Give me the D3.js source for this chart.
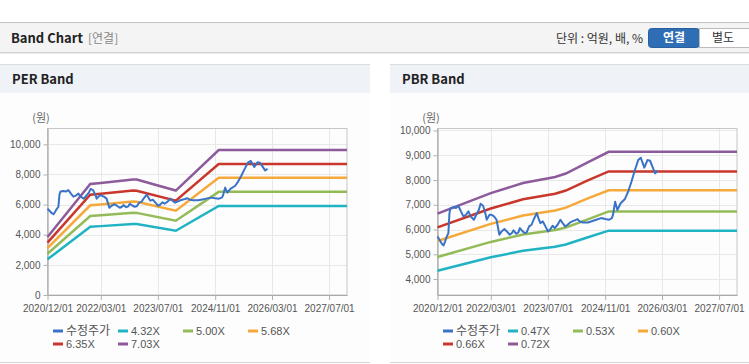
<!DOCTYPE html>
<html>
<head>
<meta charset="utf-8">
<script src="https://cdn.jsdelivr.net/npm/d3@7"></script>
<style>
  html, body { margin: 0; padding: 0; background: #fff; }
  svg { display: block; }
  text { font-family: "Noto Sans CJK KR", "Liberation Sans", sans-serif; }
</style>
</head>
<body>
<svg id="chart"></svg>
<script>
// x tick labels shared by both charts
const tickDates = ['2020/12/01', '2022/03/01', '2023/07/01', '2024/11/01', '2026/03/01', '2027/07/01'];
const xStart = '2020-12-01';
const xEnd = '2027-12-01';

// adjusted price (수정주가)
const priceDates = [
  '2020-12-01','2020-12-18','2021-01-07','2021-01-22','2021-02-04','2021-02-19','2021-03-04','2021-03-13',
  '2021-03-22','2021-04-16','2021-05-07','2021-05-28','2021-06-19','2021-07-10','2021-08-01','2021-08-22',
  '2021-09-10','2021-10-07','2021-10-28','2021-11-19','2021-12-04','2021-12-25','2022-01-13','2022-01-25',
  '2022-02-18','2022-03-07','2022-03-28','2022-04-19','2022-05-13','2022-06-01','2022-06-25','2022-07-16',
  '2022-08-10','2022-08-28','2022-09-10','2022-10-04','2022-10-22','2022-11-04','2022-11-28','2022-12-16',
  '2023-01-01','2023-01-22','2023-02-12','2023-03-01','2023-03-28','2023-04-16','2023-04-28','2023-05-19',
  '2023-06-10','2023-07-01','2023-07-19','2023-08-10','2023-08-28','2023-09-22','2023-10-16','2023-11-04',
  '2023-11-25','2023-12-16','2024-01-07','2024-01-25','2024-02-16','2024-03-10','2024-03-28','2024-04-25',
  '2024-06-07','2024-07-04','2024-08-16','2024-09-28','2024-11-01','2024-12-04','2024-12-28','2025-01-07',
  '2025-01-25','2025-02-13','2025-03-13','2025-04-19','2025-05-16','2025-06-13','2025-07-13','2025-08-10',
  '2025-09-01','2025-10-01','2025-10-28','2025-11-19','2025-12-04','2026-01-01','2026-01-22'
];
const priceValues = [
  5722, 5588, 5426, 5359, 5520, 5722, 5857, 6664,
  6866, 6906, 6866, 6960, 6731, 6529, 6597, 6731,
  6529, 6395, 6597, 6798, 7040, 6960, 6664, 6395,
  6597, 6597, 6529, 6395, 5789, 5924, 6018, 5924,
  5789, 5857, 5964, 5830, 5884, 6058, 5924, 5857,
  5884, 6126, 6193, 6395, 6664, 6395, 6260, 6327,
  6126, 5924, 5991, 6153, 6058, 6193, 6395, 6260,
  6126, 6193, 6287, 6327, 6368, 6422, 6327, 6287,
  6287, 6327, 6395, 6462, 6422, 6395, 6462, 6600,
  7125, 6790, 7060, 7234, 7528, 7931, 8403, 8806,
  8899, 8500, 8806, 8780, 8600, 8270, 8375
];

// PER band lines
const perDates = ['2020-12-01','2021-12-01','2022-03-01','2022-12-01','2023-01-01','2023-12-01','2024-12-01','2027-12-01'];
const per432 = [2367, 4527, 4571, 4713, 4709, 4260, 5914, 5914];
const per500 = [2740, 5240, 5290, 5455, 5450, 4930, 6845, 6845];
const per568 = [3113, 5953, 6009, 6197, 6191, 5600, 7776, 7776];
const per635 = [3480, 6655, 6718, 6928, 6922, 6261, 8693, 8693];
const per703 = [3852, 7367, 7438, 7670, 7663, 6932, 9624, 9624];
const perLabels = ['4.32X', '5.00X', '5.68X', '6.35X', '7.03X'];
const perTicks = [0, 2000, 4000, 6000, 8000, 10000];

// PBR band lines
const pbrDates = ['2020-12-01','2022-03-01','2022-12-01','2023-09-01','2023-12-01','2024-06-01','2024-12-01','2027-12-01'];
const pbr047 = [4336, 4878, 5142, 5302, 5393, 5678, 5955, 5955];
const pbr053 = [4889, 5500, 5798, 5978, 6082, 6402, 6730, 6730];
const pbr060 = [5535, 6227, 6564, 6768, 6885, 7248, 7585, 7585];
const pbr066 = [6089, 6849, 7220, 7445, 7574, 7973, 8345, 8345];
const pbr072 = [6642, 7472, 7877, 8122, 8262, 8698, 9140, 9140];
const pbrLabels = ['0.47X', '0.53X', '0.60X', '0.66X', '0.72X'];
const pbrTicks = [4000, 5000, 6000, 7000, 8000, 9000, 10000];

const priceName = '수정주가';
const colors = ['#3a73c6', '#20b3c3', '#93bb58', '#f5a93a', '#c9362b', '#8d5a9c'];

const W = 749, H = 364;
const parse = d3.timeParse('%Y-%m-%d');
const parseTick = d3.timeParse('%Y/%m/%d');

const svg = d3.select('#chart').attr('width', W).attr('height', H);

// ---- top header bar
svg.append('rect').attr('x', 0).attr('y', 22).attr('width', W).attr('height', 30).attr('fill', '#f4f4f4');
svg.append('line').attr('x1', 0).attr('x2', W).attr('y1', 22.5).attr('y2', 22.5).attr('stroke', '#c4c4c4');
svg.append('line').attr('x1', 0).attr('x2', W).attr('y1', 52.5).attr('y2', 52.5).attr('stroke', '#d0d0d0');
svg.append('line').attr('x1', 0).attr('x2', W).attr('y1', 53.5).attr('y2', 53.5).attr('stroke', '#ececec');

svg.append('text').attr('x', 11).attr('y', 42.5)
  .style('font-size', '13px').style('font-weight', 'bold').attr('fill', '#222')
  .text('Band Chart');
svg.append('text').attr('x', 88).attr('y', 42.5)
  .style('font-size', '12px').attr('fill', '#888')
  .text('[연결]');
svg.append('text').attr('x', 643).attr('y', 42.5).attr('text-anchor', 'end')
  .style('font-size', '12px').attr('fill', '#333')
  .text('단위 : 억원, 배, %');

svg.append('rect').attr('x', 648.5).attr('y', 28.5).attr('width', 51).attr('height', 19).attr('rx', 3)
  .attr('fill', '#2f6db4').attr('stroke', '#2a5f9e');
svg.append('rect').attr('x', 699.5).attr('y', 28.5).attr('width', 60).attr('height', 19)
  .attr('fill', '#fff').attr('stroke', '#bbb');
svg.append('text').attr('x', 674).attr('y', 42).attr('text-anchor', 'middle')
  .style('font-size', '12px').style('font-weight', 'bold').attr('fill', '#fff')
  .text('연결');
svg.append('text').attr('x', 723).attr('y', 42).attr('text-anchor', 'middle')
  .style('font-size', '12px').attr('fill', '#333')
  .text('별도');

function drawBand(x0, pw, title, bandDates, bands, labels, yDomain, yTicks) {
  const g = svg.append('g').attr('transform', `translate(${x0},0)`);

  // panel
  g.append('rect').attr('x', 0).attr('y', 64).attr('width', pw).attr('height', 298).attr('fill', '#fdfdfd');
  g.append('rect').attr('x', 0).attr('y', 64).attr('width', pw).attr('height', 29).attr('fill', '#eff2f7');
  g.append('line').attr('x1', 0).attr('x2', pw).attr('y1', 64.5).attr('y2', 64.5).attr('stroke', '#dcdcdc');
  g.append('line').attr('x1', 0).attr('x2', pw).attr('y1', 362.5).attr('y2', 362.5).attr('stroke', '#d6d6d6');
  g.append('text').attr('x', 12).attr('y', 84)
    .style('font-size', '13px').style('font-weight', 'bold').attr('fill', '#222')
    .text(title);

  const left = 47.5, right = 347, top = 128.5, bottom = 295;

  const xScale = d3.scaleUtc()
    .domain([parse(xStart), parse(xEnd)])
    .range([left, right]);
  const yScale = d3.scaleLinear()
    .domain(yDomain)
    .range([bottom, top]);
  const xTicks = tickDates.map(d => parseTick(d));

  // grid
  g.append('g').selectAll('line').data(yTicks).enter().append('line')
    .attr('x1', left).attr('x2', right)
    .attr('y1', d => Math.round(yScale(d)) + 0.5).attr('y2', d => Math.round(yScale(d)) + 0.5)
    .attr('stroke', '#e8e8e8');
  g.append('g').selectAll('line').data(xTicks).enter().append('line')
    .attr('x1', d => Math.round(xScale(d)) + 0.5).attr('x2', d => Math.round(xScale(d)) + 0.5)
    .attr('y1', top).attr('y2', bottom)
    .attr('stroke', '#e8e8e8');

  // plot frame
  g.append('rect').attr('x', left).attr('y', top).attr('width', right - left).attr('height', bottom - top)
    .attr('fill', 'none').attr('stroke', '#c6c6c6');

  const xAxis = g.append('g')
    .attr('transform', `translate(0,${bottom})`)
    .call(d3.axisBottom(xScale).tickValues(xTicks).tickFormat(d3.utcFormat('%Y/%m/%d')).tickSize(5).tickSizeOuter(0));
  xAxis.select('.domain').attr('stroke', '#a8a8a8');
  xAxis.selectAll('.tick line').attr('stroke', '#b0b0b0');
  xAxis.selectAll('.tick text').attr('fill', '#555').attr('dy', '0.9em')
    .style('font-family', '"Liberation Sans", Arial, sans-serif').style('font-size', '10px');

  const yAxis = g.append('g')
    .attr('transform', `translate(${left},0)`)
    .call(d3.axisLeft(yScale).tickValues(yTicks).tickFormat(d3.format(',')).tickSize(4).tickSizeOuter(0));
  yAxis.select('.domain').attr('stroke', '#a8a8a8');
  yAxis.selectAll('.tick line').attr('stroke', '#b0b0b0');
  yAxis.selectAll('.tick text').attr('fill', '#555').attr('x', -7)
    .style('font-family', '"Liberation Sans", Arial, sans-serif').style('font-size', '10px');

  g.append('text').attr('x', 41).attr('y', 122).attr('text-anchor', 'middle')
    .style('font-size', '11px').attr('fill', '#666')
    .text('(원)');

  const line = d3.line()
    .x(d => xScale(d.time))
    .y(d => yScale(d.value));

  const bandSeries = bands.map((vals, i) => ({
    name: labels[i],
    color: colors[i + 1],
    values: vals.map((v, j) => ({ time: parse(bandDates[j]), value: v }))
  }));
  const priceSeries = {
    name: priceName,
    color: colors[0],
    values: priceValues.map((v, j) => ({ time: parse(priceDates[j]), value: v }))
  };

  g.selectAll('.band').data(bandSeries).enter().append('path')
    .attr('class', 'band')
    .attr('d', d => line(d.values))
    .attr('stroke', d => d.color)
    .style('stroke-width', 2.5)
    .style('fill', 'none');

  g.append('path')
    .attr('d', line(priceSeries.values))
    .attr('stroke', priceSeries.color)
    .style('stroke-width', 2)
    .style('stroke-linejoin', 'round')
    .style('fill', 'none');

  // legend
  const items = [priceSeries].concat(bandSeries);
  const leg = g.selectAll('.leg').data(items).enter().append('g')
    .attr('class', 'leg')
    .attr('transform', (d, i) => `translate(${53 + (i % 4) * 65},${i < 4 ? 331 : 344})`);
  leg.append('line').attr('x1', 0).attr('x2', 10).attr('y1', 0).attr('y2', 0)
    .attr('stroke', d => d.color).attr('stroke-width', 3);
  leg.append('text').attr('x', 13).attr('y', 4)
    .style('font-family', (d, i) => i === 0 ? '"Noto Sans CJK KR", sans-serif' : '"Liberation Sans", Arial, sans-serif')
    .style('font-size', (d, i) => i === 0 ? '12px' : '11px')
    .attr('fill', '#555')
    .text(d => d.name);
}

drawBand(0, 370, 'PER Band', perDates, [per432, per500, per568, per635, per703], perLabels, [0, 11050], perTicks);
drawBand(390, 359, 'PBR Band', pbrDates, [pbr047, pbr053, pbr060, pbr066, pbr072], pbrLabels, [3356, 10080], pbrTicks);
</script>
</body>
</html>
